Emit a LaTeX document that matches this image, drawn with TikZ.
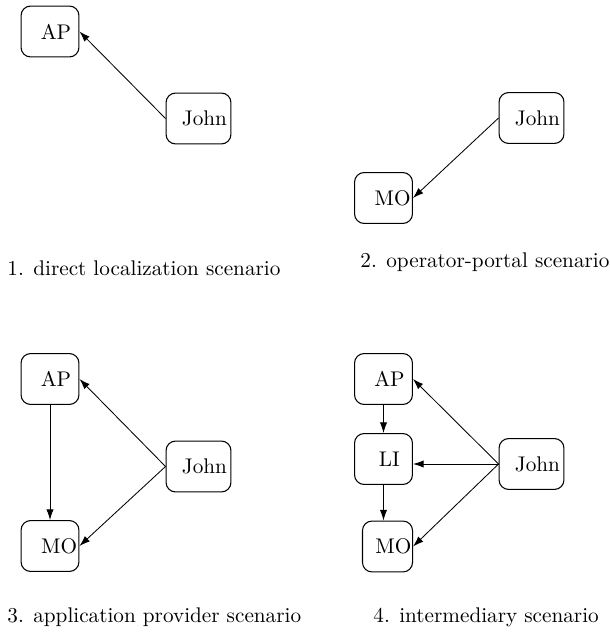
\documentclass[tikz,border=0pt]{standalone}
\usepackage{tikz}
\usetikzlibrary{arrows.meta,positioning}

\begin{document}
\begin{tikzpicture}[
  x=0.4715pt, y=-0.4715pt,
  ent/.style={draw, rounded corners=4.5pt, line width=0.5pt,
              minimum width=27.3pt, minimum height=24pt, inner sep=0pt,
              font=\normalsize, execute at begin node={\hspace*{5.6pt}}},
  wide/.style={ent, minimum width=30.6pt},
  narrow/.style={ent, minimum width=23.6pt},
  caption/.style={anchor=west, inner sep=0pt, font=\normalsize},
  arr/.style={-{Latex[length=5pt,width=3.4pt]}, line width=0.4pt}
]
\useasboundingbox (0,0) rectangle (609,633);

%% 1. direct localization
\node[ent]  (ap1)   at ( 50.0, 31.5) {AP};
\node[wide] (john1) at (198.5,118.5) {John};
\draw[arr] (john1.west) -- (ap1.east);
\node[caption] (cap1) at (  7,268) {1. direct localization scenario};

%% 2. operator-portal
\node[wide] (john2) at (531.5,118.0) {John};
\node[ent]  (mo2)   at (383.5,198.0) {\hspace*{3pt}MO};
\draw[arr] (john2.west) -- (mo2.east);
\node[caption] (cap2) at (360,262) {2. operator-portal scenario};

%% 3. application provider
\node[ent]  (ap3)   at ( 50.0,379.0) {AP};
\node[ent]  (mo3)   at ( 50.0,546.0) {\hspace*{3pt}MO};
\node[wide] (john3) at (198.5,466.5) {John};
\draw[arr] (ap3) -- (mo3);
\draw[arr] (john3.west) -- (ap3.east);
\draw[arr] (john3.west) -- (mo3.east);
\node[caption] (cap3) at (  7,617) {3. application provider scenario};

%% 4. intermediary
\node[ent]    (ap4)   at (383.5,379.0) {AP};
\node[ent]    (li4)   at (383.5,459.0) {LI};
\node[narrow] (mo4)   at (387.5,546.5) {MO};
\node[wide]   (john4) at (531.5,464.0) {John};
\draw[arr] (ap4) -- (li4);
\draw[arr] (li4.south) -- (li4.south |- mo4.north);
\draw[arr] (john4.west) -- (ap4.east);
\draw[arr] (john4.west) -- (john4.west -| li4.east);
\draw[arr] (john4.west) -- (mo4.east);
\node[caption] (cap4) at (373,617) {4. intermediary scenario};
\end{tikzpicture}
\end{document}
